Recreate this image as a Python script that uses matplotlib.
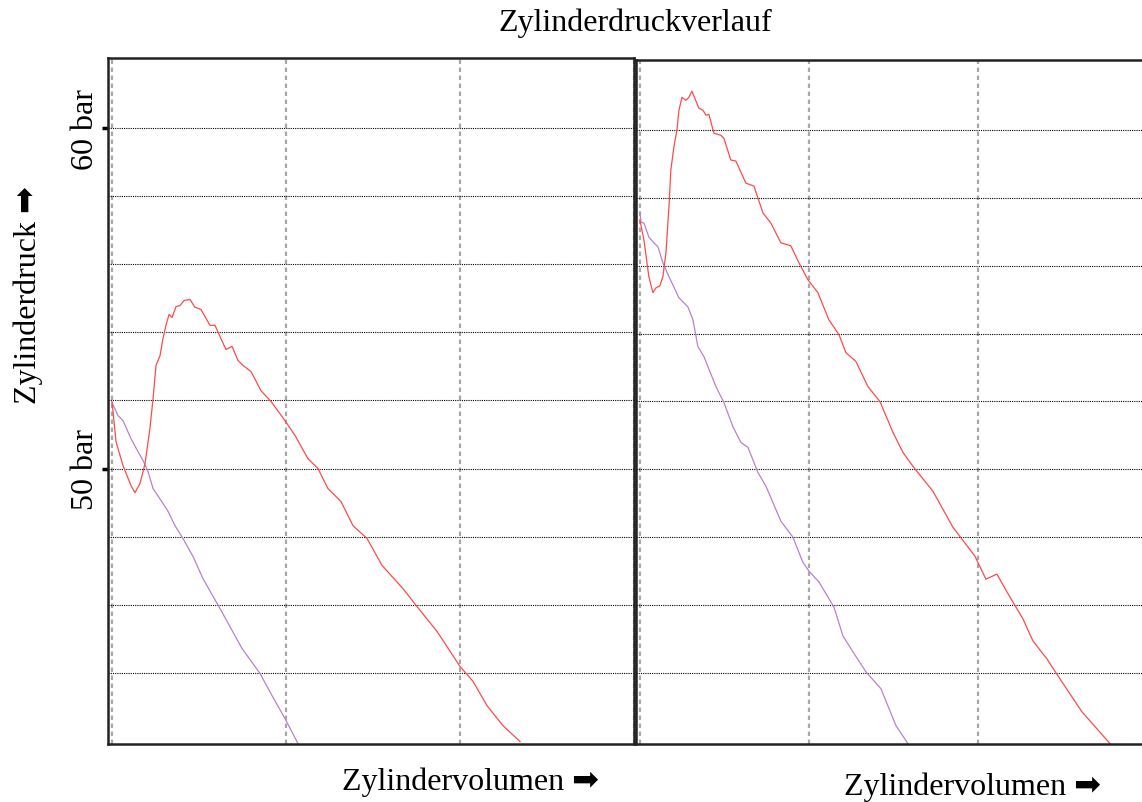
import matplotlib.pyplot as plt

# --- pressure traces, x in grid units (volume), y in bar ---
left_red_x = [0.000, 0.023, 0.063, 0.109, 0.132, 0.161, 0.190, 0.218, 0.236, 0.253,
              0.276, 0.293, 0.310, 0.328, 0.345, 0.368, 0.391, 0.414, 0.448, 0.477,
              0.511, 0.563, 0.592, 0.626, 0.655, 0.690, 0.724, 0.753, 0.799, 0.856,
              0.914, 0.994, 1.052, 1.126, 1.184, 1.241, 1.316, 1.385, 1.466, 1.552,
              1.672, 1.753, 1.868, 2.000, 2.075, 2.155, 2.247, 2.345]
left_red_y = [51.97, 50.79, 50.09, 49.50, 49.29, 49.56, 50.15, 51.18, 52.06, 53.03,
              53.32, 53.82, 54.21, 54.53, 54.44, 54.76, 54.79, 54.94, 54.97, 54.74,
              54.68, 54.21, 54.21, 53.82, 53.50, 53.59, 53.18, 53.03, 52.85, 52.29,
              51.97, 51.41, 50.97, 50.29, 50.00, 49.41, 49.03, 48.32, 47.94, 47.15,
              46.47, 45.94, 45.21, 44.18, 43.74, 43.03, 42.44, 41.97]

left_purple_x = [0.000, 0.034, 0.063, 0.109, 0.149, 0.178, 0.207, 0.236, 0.282, 0.322,
                 0.362, 0.408, 0.466, 0.523, 0.621, 0.747, 0.851, 0.920, 0.994, 1.069]
left_purple_y = [51.94, 51.56, 51.41, 50.88, 50.50, 50.24, 49.91, 49.41, 49.06, 48.74,
                 48.32, 47.94, 47.41, 46.76, 45.88, 44.71, 43.97, 43.32, 42.65, 41.91]

right_red_x = [0.000, 0.024, 0.053, 0.077, 0.095, 0.118, 0.136, 0.154, 0.172, 0.183,
               0.201, 0.219, 0.231, 0.249, 0.272, 0.290, 0.308, 0.325, 0.349, 0.373,
               0.391, 0.408, 0.438, 0.479, 0.497, 0.538, 0.568, 0.627, 0.675, 0.728,
               0.775, 0.834, 0.893, 0.941, 0.994, 1.053, 1.118, 1.178, 1.219, 1.278,
               1.349, 1.420, 1.497, 1.556, 1.615, 1.734, 1.852, 1.982, 2.047, 2.112,
               2.172, 2.266, 2.325, 2.408, 2.485, 2.615, 2.704, 2.781]
right_red_y = [57.35, 56.76, 55.68, 55.21, 55.35, 55.41, 55.68, 56.38, 57.74, 58.82,
               59.50, 60.00, 60.59, 60.97, 60.88, 60.97, 61.15, 60.94, 60.65, 60.59,
               60.44, 60.47, 59.91, 59.85, 59.76, 59.12, 59.09, 58.44, 58.35, 57.56,
               57.26, 56.68, 56.59, 56.09, 55.59, 55.21, 54.41, 53.97, 53.44, 53.18,
               52.44, 52.00, 51.09, 50.50, 50.09, 49.35, 48.29, 47.44, 46.76, 46.91,
               46.38, 45.59, 44.94, 44.41, 43.82, 42.85, 42.35, 41.91]

right_purple_x = [0.000, 0.006, 0.024, 0.053, 0.083, 0.107, 0.136, 0.172, 0.231, 0.284,
                  0.314, 0.343, 0.379, 0.450, 0.497, 0.550, 0.598, 0.639, 0.698, 0.746,
                  0.834, 0.905, 0.964, 1.000, 1.059, 1.148, 1.201, 1.260, 1.337, 1.426,
                  1.515, 1.586]
right_purple_y = [57.59, 57.29, 57.26, 56.85, 56.68, 56.56, 56.09, 55.68, 55.06, 54.79,
                  54.41, 53.62, 53.32, 52.44, 51.97, 51.26, 50.79, 50.65, 49.91, 49.50,
                  48.47, 48.00, 47.26, 47.00, 46.68, 45.94, 45.09, 44.62, 44.03, 43.53,
                  42.44, 41.91]

y_grid = [44, 46, 48, 50, 52, 54, 56, 58, 60]
x_grid = [0, 1, 2, 3]
y_ticks = [50, 60]
y_ticklabels = ['50 bar', '60 bar']

RED = '#ff4a4a'
PURPLE = '#b682cf'
FONT = ['Liberation Serif', 'DejaVu Sans']
FS = 23

plt.rcParams['font.family'] = FONT

fig = plt.figure(figsize=(11.42, 8.03), dpi=100)
ax_l = fig.add_axes([108 / 1142, 58 / 803, 526 / 1142, 686 / 803])
ax_r = fig.add_axes([636 / 1142, 58 / 803, 511 / 1142, 684 / 803])


def style_axes(ax, show_labels):
    ax.set_ylim(41.9, 62.07)
    ax.set_xlim(-0.023, 3.0)
    ax.set_xticks(x_grid)
    ax.tick_params(axis='x', length=0, labelbottom=False)
    ax.set_yticks(y_grid, minor=True)
    if show_labels:
        ax.set_yticks(y_ticks)
        ax.set_yticklabels(y_ticklabels, rotation=90, va='center', fontsize=FS)
        ax.tick_params(axis='y', which='major', length=4, width=2.5, pad=2)
    else:
        ax.set_yticks([])
    ax.tick_params(axis='y', which='minor', length=0)
    ax.set_axisbelow(True)
    ax.grid(axis='y', which='both', color='black', linestyle=(0, (1, 1)), linewidth=0.8)
    for xv in x_grid:
        ax.axvline(xv, color='#a8a8a8', linestyle=(0, (2, 1.6)), linewidth=1.6, zorder=0.5)
    for sp in ax.spines.values():
        sp.set_linewidth(1.8)
        sp.set_color('#222222')


style_axes(ax_l, True)
style_axes(ax_r, False)

ax_l.plot(left_purple_x, left_purple_y, color=PURPLE, linewidth=0.9)
ax_l.plot(left_red_x, left_red_y, color=RED, linewidth=0.9)
ax_r.plot(right_purple_x, right_purple_y, color=PURPLE, linewidth=0.9)
ax_r.plot(right_red_x, right_red_y, color=RED, linewidth=0.9)

fig.text(0.556, 1 - 23 / 803, 'Zylinderdruckverlauf', ha='center', va='center', fontsize=FS)
fig.text(470 / 1142, 1 - 782 / 803, 'Zylindervolumen \u27a1', ha='center', va='center', fontsize=FS)
fig.text(972 / 1142, 1 - 787 / 803, 'Zylindervolumen \u27a1', ha='center', va='center', fontsize=FS)
fig.text(28 / 1142, 1 - 295 / 803, 'Zylinderdruck \u27a1', ha='center', va='center',
         rotation=90, fontsize=FS)

fig.savefig('out.png', dpi=100)
